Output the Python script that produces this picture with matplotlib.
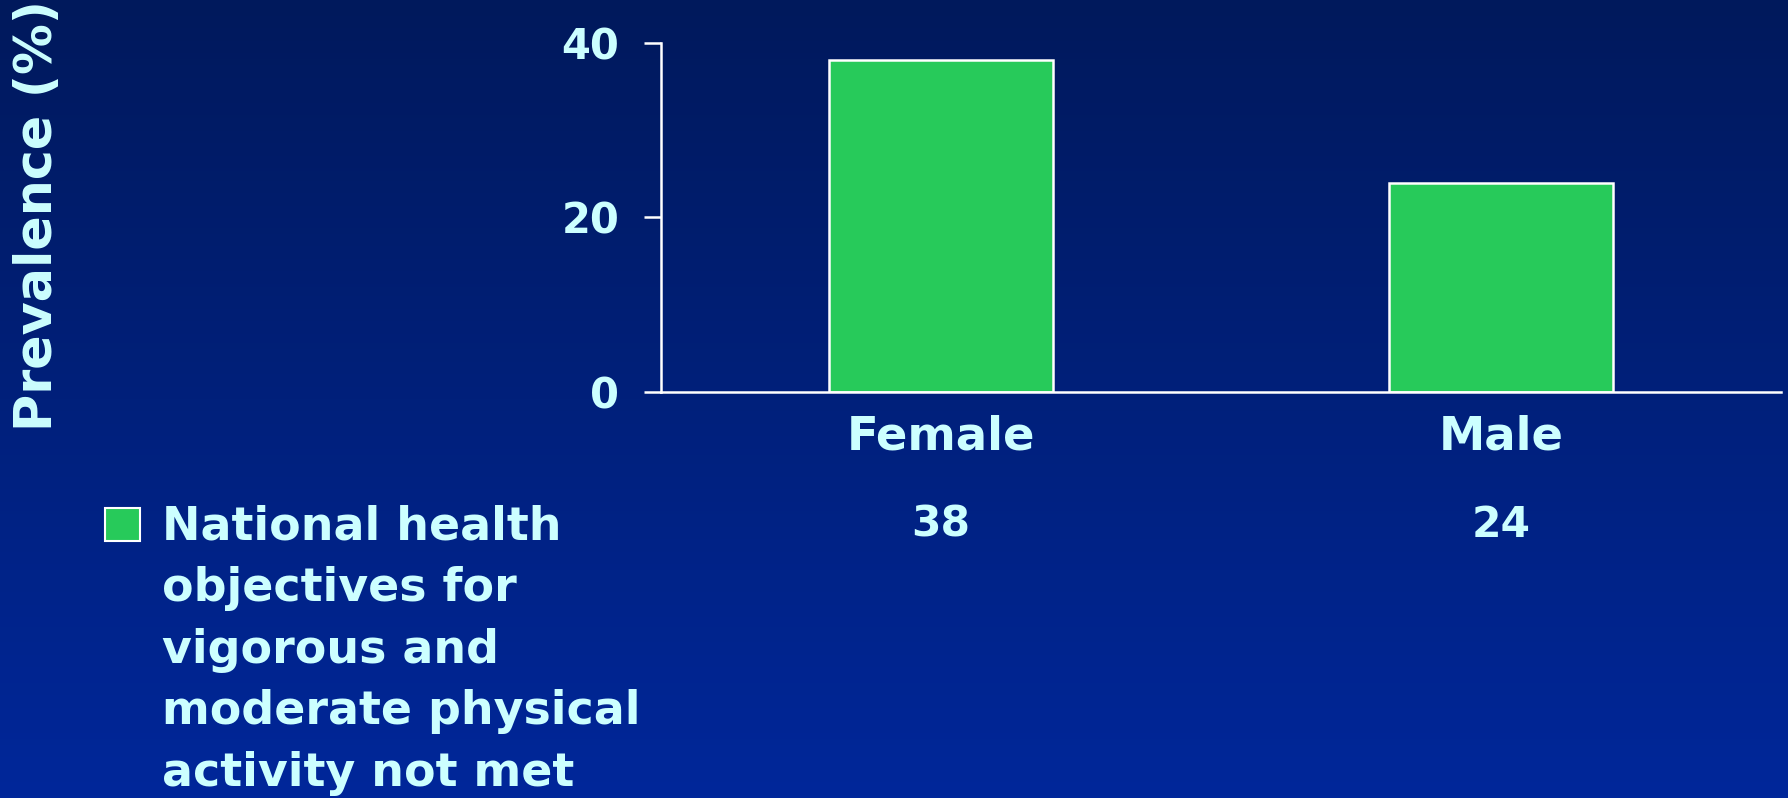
import numpy as np
import matplotlib
matplotlib.use('Agg')
import matplotlib.pyplot as plt
from matplotlib.patches import Rectangle
from matplotlib.colors import LinearSegmentedColormap

# prevalence of unmet physical activity objectives, by sex
groups = ['Female', 'Male']
prevalence = [38, 24]
yticks = [0, 20, 40]
legend_label = 'National health\nobjectives for\nvigorous and\nmoderate physical\nactivity not met'

txt_color = '#CCFFFF'
bar_color = '#27CA5A'
plt.rcParams['font.family'] = ['DejaVu Sans']
plt.rcParams['font.weight'] = 'bold'

fig = plt.figure(figsize=(17.88, 7.98), dpi=100)

# dark-to-lighter blue slide background
bg = fig.add_axes([0, 0, 1, 1], zorder=-10)
cmap = LinearSegmentedColormap.from_list('slide', ['#00195C', '#00279A'])
bg.imshow(np.linspace(0, 1, 256).reshape(-1, 1), aspect='auto', cmap=cmap,
          extent=[0, 1, 0, 1])
bg.set_axis_off()

ax = fig.add_axes([0.3697, 0.5088, 0.6264, 0.4373])
ax.patch.set_visible(False)
x = np.arange(len(groups))
bars = ax.bar(x, prevalence, width=0.4, color=bar_color, edgecolor='white',
              linewidth=1.8, zorder=2)

ax.set_xlim(-0.5, 1.5)
ax.set_ylim(0, 40)
ax.set_yticks(yticks)
ax.set_xticks(x)
ax.set_xticklabels(groups)
ax.tick_params(axis='y', direction='out', length=12, width=1.8, color='white',
               labelcolor=txt_color, labelsize=30, pad=18)
ax.tick_params(axis='x', length=0, labelcolor=txt_color, labelsize=33.5, pad=16)
for s in ['top', 'right']:
    ax.spines[s].set_visible(False)
for s in ['left', 'bottom']:
    ax.spines[s].set_color('white')
    ax.spines[s].set_linewidth(1.8)
ax.spines['bottom'].set_zorder(3)

# values row under the category labels
for xi, v in zip(x, prevalence):
    ax.text(xi, -0.38, str(v), transform=ax.get_xaxis_transform(),
            ha='center', va='center', color=txt_color, fontsize=30.5)

fig.text(0.021, 0.73, 'Prevalence (%)', rotation=90, ha='center', va='center',
         color=txt_color, fontsize=36.5)

# legend swatch and label
fig.add_artist(Rectangle((105 / 1788, 1 - 541 / 798), 35 / 1788, 33 / 798,
                         transform=fig.transFigure, facecolor=bar_color,
                         edgecolor='white', linewidth=1.5))
fig.text(162 / 1788, 1 - 505 / 798, legend_label, ha='left', va='top',
         color=txt_color, fontsize=33, linespacing=1.47)

fig.savefig('out.png', dpi=100)
